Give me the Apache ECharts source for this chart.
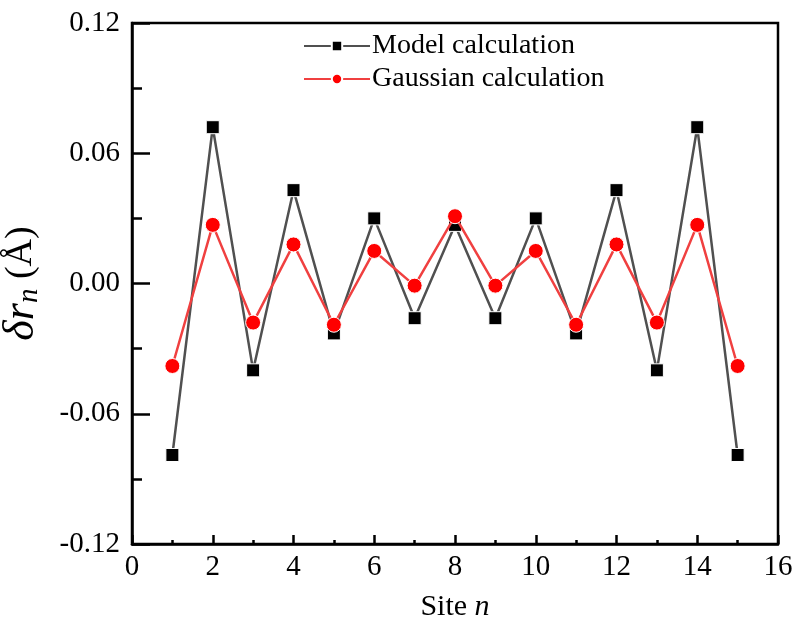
<!DOCTYPE html>
<html>
<head>
<meta charset="utf-8">
<script src="https://cdn.jsdelivr.net/npm/echarts@6/dist/echarts.min.js"></script>
<style>html,body{margin:0;padding:0;background:#fff}#c{width:796px;height:618px}</style>
</head>
<body>
<div id="c"></div>
<script>
const sites = [1,2,3,4,5,6,7,8,9,10,11,12,13,14,15];
const modelValues = [-0.079,0.072,-0.040,0.043,-0.023,0.030,-0.016,0.027,-0.016,0.030,-0.023,0.043,-0.040,0.072,-0.079];
const gaussValues = [-0.038,0.027,-0.018,0.018,-0.019,0.015,-0.001,0.031,-0.001,0.015,-0.019,0.018,-0.018,0.027,-0.038];
const yTicks = [-0.12,-0.06,0,0.06,0.12];
const xTicks = [0,2,4,6,8,10,12,14,16];

const font = 'Liberation Serif';
const chart = echarts.init(document.getElementById('c'), null, {renderer:'canvas'});
const toPairs = (xs, ys) => xs.map((x,i)=>[x, ys[i]]);
chart.setOption({
  animation:false,
  backgroundColor:'#fff',
  grid:{left:132, right:18, top:23, bottom:74, outerBoundsMode:'none', show:true, borderColor:'#000', borderWidth:2.5, backgroundColor:'transparent'},
  legend:{
    orient:'vertical', left:298, top:27, itemWidth:66, itemHeight:13, itemGap:5,
    textStyle:{fontFamily:font, fontSize:28, color:'#000', padding:[0,0,0,-3]},
    data:[{name:'Model calculation'},{name:'Gaussian calculation'}]
  },
  xAxis:{
    type:'value', min:xTicks[0], max:xTicks[xTicks.length-1], interval:2,
    name:'{a|Site }{b|n}', nameLocation:'middle', nameGap:48,
    nameTextStyle:{rich:{a:{fontFamily:font,fontSize:30,color:'#000'},b:{fontFamily:font,fontSize:30,fontStyle:'italic',color:'#000'}}},
    axisLine:{show:true, onZero:false, lineStyle:{color:'#000', width:2.5}},
    axisTick:{show:true, inside:true, length:9, lineStyle:{color:'#000', width:2.5}},
    minorTick:{show:true, splitNumber:2, length:4, lineStyle:{color:'#000', width:2.5}},
    splitLine:{show:false},
    axisLabel:{fontFamily:font, fontSize:29, color:'#000', margin:9}
  },
  yAxis:{
    type:'value', min:yTicks[0], max:yTicks[yTicks.length-1], interval:0.06,
    name:'{d|δr}{s|n}{p| (Å)}', nameLocation:'middle', nameGap:88, nameRotate:90,
    nameTextStyle:{rich:{
      d:{fontFamily:font,fontSize:44,fontStyle:'italic',color:'#000'},
      s:{fontFamily:font,fontSize:29,fontStyle:'italic',color:'#000',verticalAlign:'bottom',padding:[16,0,0,0]},
      p:{fontFamily:font,fontSize:38,color:'#000'}
    }},
    axisLine:{show:true, onZero:false, lineStyle:{color:'#000', width:2.5}},
    axisTick:{show:true, inside:true, length:18, lineStyle:{color:'#000', width:2.5}},
    minorTick:{show:true, splitNumber:2, length:10, lineStyle:{color:'#000', width:2.5}},
    splitLine:{show:false},
    axisLabel:{fontFamily:font, fontSize:29, color:'#000', margin:12, formatter:v=>v.toFixed(2)}
  },
  series:[
    {name:'Model calculation', type:'line', data:toPairs(sites, modelValues),
     symbol:'rect', symbolSize:13, lineStyle:{color:'#505050', width:2.5},
     itemStyle:{color:'#000', borderColor:'#fff', borderWidth:1}, z:2},
    {name:'Gaussian calculation', type:'line', data:toPairs(sites, gaussValues),
     symbol:'circle', symbolSize:15, lineStyle:{color:'#f04040', width:2.5},
     itemStyle:{color:'#ff0000', borderColor:'#fff', borderWidth:1}, z:3}
  ]
});
</script>
</body>
</html>
